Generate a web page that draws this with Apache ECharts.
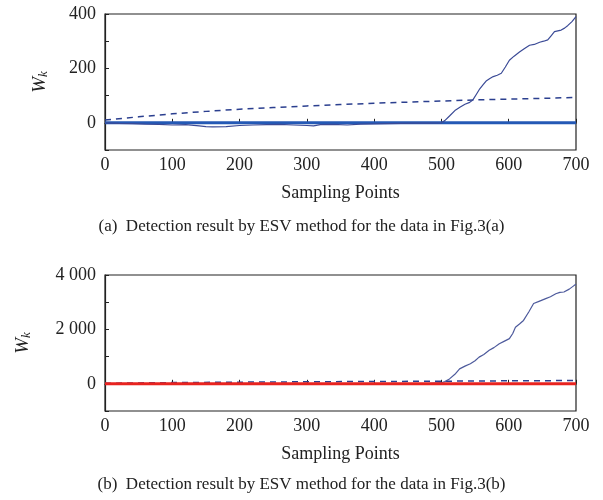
<!DOCTYPE html>
<html>
<head>
<meta charset="utf-8">
<script src="https://cdn.jsdelivr.net/npm/echarts@6/dist/echarts.min.js"></script>
<style>
  html, body { margin: 0; padding: 0; background: #fff; }
  #chart { width: 603px; height: 500px; }
</style>
</head>
<body>
<div id="chart"></div>
<script>
// (a) ESV detection, data of Fig.3(a)
const wkA = [
  [0, 0], [20, -2], [40, -3], [60, -5], [80, -6], [100, -8], [120, -7], [140, -11],
  [150, -14], [160, -15], [180, -14], [200, -10], [220, -8], [240, -7], [260, -6],
  [280, -8], [300, -10], [310, -11], [320, -7], [340, -6], [360, -8], [380, -5],
  [400, -4], [420, -3], [440, -2], [460, -1], [480, -1], [500, 0], [505, 8],
  [512, 25], [520, 45], [528, 58], [535, 68], [542, 75], [547, 85], [552, 105],
  [557, 125], [562, 140], [567, 155], [572, 163], [577, 170], [583, 175], [589, 182],
  [595, 205], [601, 230], [608, 245], [616, 260], [623, 272], [631, 285], [638, 288],
  [646, 296], [652, 300], [658, 305], [663, 320], [668, 335], [673, 338], [678, 341],
  [683, 348], [688, 358], [694, 372], [700, 390]
];
const limitA = [
  [0, 10], [50, 22], [100, 33], [150, 42], [200, 50], [250, 56], [300, 62], [350, 67],
  [400, 72], [450, 76], [500, 80], [550, 84], [600, 87], [650, 90], [700, 93]
];
// (b) ESV detection, data of Fig.3(b)
const wkB = [
  [0, 0], [100, -10], [200, 0], [300, -10], [400, 0], [480, 10], [500, 40], [505, 80],
  [512, 180], [520, 350], [527, 550], [535, 650], [543, 740], [550, 850], [556, 980],
  [563, 1080], [571, 1230], [578, 1330], [586, 1470], [593, 1560], [601, 1660],
  [606, 1850], [610, 2080], [616, 2200], [622, 2330], [630, 2650], [637, 2950],
  [645, 3030], [655, 3130], [662, 3200], [670, 3310], [676, 3360], [682, 3375],
  [690, 3480], [697, 3610], [700, 3660]
];
const limitB = [
  [0, 20], [100, 45], [200, 60], [300, 75], [400, 85], [500, 95], [600, 110], [700, 120]
];
const zeroLine = [[0, 0], [700, 0]];
const xTicks = [0, 100, 200, 300, 400, 500, 600, 700];

const serif = '"Liberation Serif", "DejaVu Serif", serif';
const chart = echarts.init(document.getElementById('chart'));

function xAxisFor(gridIndex) {
  return {
    type: 'value', gridIndex: gridIndex, min: xTicks[0], max: xTicks[xTicks.length - 1], interval: 100,
    name: 'Sampling Points', nameLocation: 'middle', nameGap: 34,
    nameTextStyle: { fontFamily: serif, fontSize: 18, color: '#222' },
    axisLine: { lineStyle: { color: '#222', width: 1.2 } },
    axisTick: { inside: true, length: 4, lineStyle: { color: '#222' } },
    axisLabel: { fontFamily: serif, fontSize: 18, color: '#222', margin: 6 },
    splitLine: { show: false }
  };
}
// ticks every half step, labels only on full steps
function yAxisFor(gridIndex, min, max, step, gap, fmt) {
  return {
    type: 'value', gridIndex: gridIndex, min: min, max: max, interval: step / 2,
    name: '{w|W}{k|k}', nameLocation: 'middle', nameGap: gap, nameRotate: 90,
    nameTextStyle: {
      rich: {
        w: { fontFamily: serif, fontStyle: 'italic', fontSize: 19, color: '#222' },
        k: { fontFamily: serif, fontStyle: 'italic', fontSize: 13, color: '#222', padding: [8, 0, 0, 0] }
      }
    },
    axisLine: { lineStyle: { color: '#222', width: 1.2 } },
    axisTick: { inside: true, length: 4, lineStyle: { color: '#222' } },
    axisLabel: {
      fontFamily: serif, fontSize: 18, color: '#222', margin: 9, showMinLabel: true, showMaxLabel: true,
      formatter: function (v) { return (v % step === 0) ? fmt(v) : ''; }
    },
    splitLine: { show: false }
  };
}

chart.setOption({
  backgroundColor: '#fff',
  animation: false,
  grid: [
    { left: 105, right: 27, top: 14, height: 136, show: true, borderColor: '#222', borderWidth: 1.2 },
    { left: 105, right: 27, top: 275, height: 136, show: true, borderColor: '#222', borderWidth: 1.2 }
  ],
  xAxis: [xAxisFor(0), xAxisFor(1)],
  yAxis: [
    yAxisFor(0, -100, 400, 200, 55, function (v) { return String(v); }),
    yAxisFor(1, -1000, 4000, 2000, 72, function (v) { return String(v).replace(/\B(?=(\d{3})+$)/, ' '); })
  ],
  graphic: [
    { type: 'text', left: 'center', top: 218, style: { text: '(a)  Detection result by ESV method for the data in Fig.3(a)', fontFamily: serif, fontSize: 17, fill: '#222' } },
    { type: 'text', left: 'center', top: 476, style: { text: '(b)  Detection result by ESV method for the data in Fig.3(b)', fontFamily: serif, fontSize: 17, fill: '#222' } }
  ],
  series: [
    { type: 'line', xAxisIndex: 0, yAxisIndex: 0, data: limitA, showSymbol: false,
      lineStyle: { color: '#2b3f8f', width: 1.5, type: [6, 5] } },
    { type: 'line', xAxisIndex: 0, yAxisIndex: 0, data: zeroLine, showSymbol: false,
      lineStyle: { color: '#2459b5', width: 3 } },
    { type: 'line', xAxisIndex: 0, yAxisIndex: 0, data: wkA, showSymbol: false,
      lineStyle: { color: '#3a4a96', width: 1.2 } },
    { type: 'line', xAxisIndex: 1, yAxisIndex: 1, data: limitB, showSymbol: false,
      lineStyle: { color: '#2b3f8f', width: 1.5, type: [6, 5] } },
    { type: 'line', xAxisIndex: 1, yAxisIndex: 1, data: wkB, showSymbol: false,
      lineStyle: { color: '#4d5a9c', width: 1.2 } },
    { type: 'line', xAxisIndex: 1, yAxisIndex: 1, data: zeroLine, showSymbol: false,
      lineStyle: { color: '#e8231f', width: 3 } }
  ]
});
</script>
</body>
</html>
